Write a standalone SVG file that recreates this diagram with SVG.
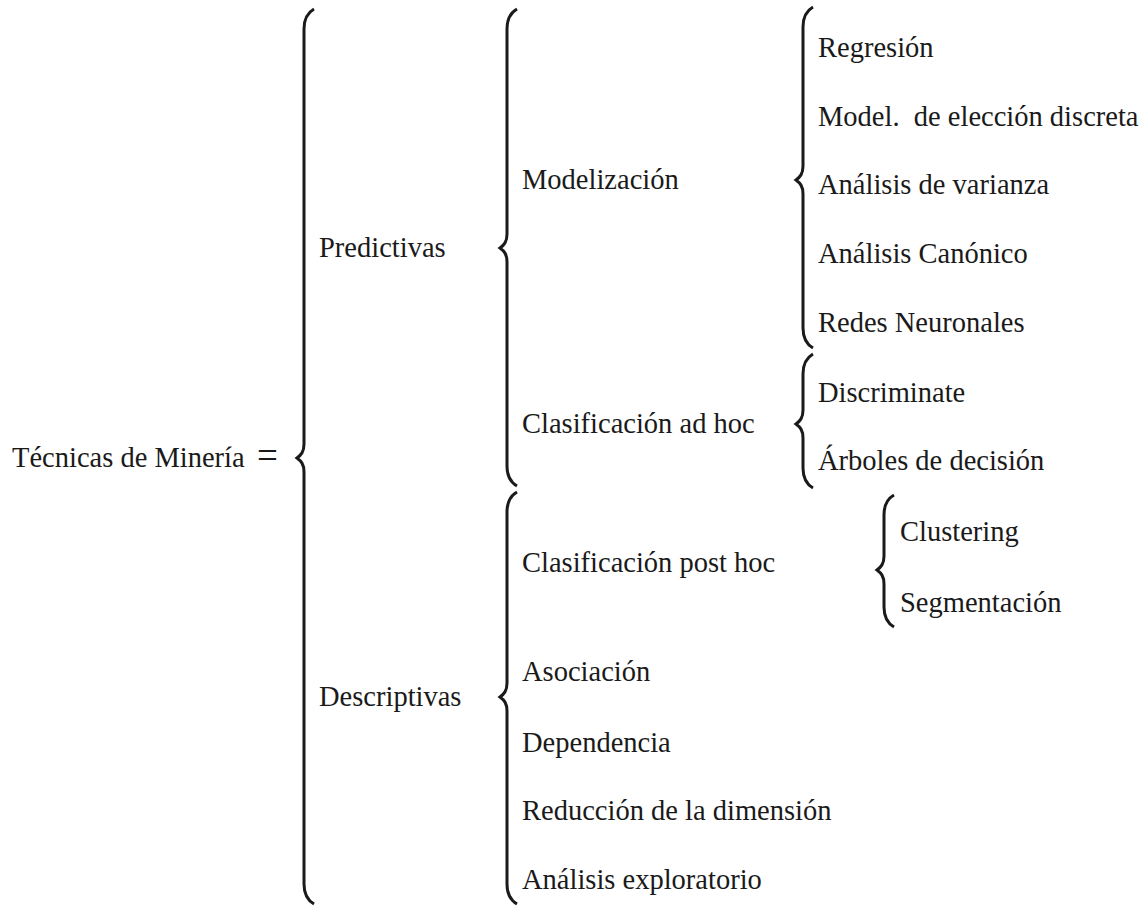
<svg xmlns="http://www.w3.org/2000/svg" width="1148" height="906" viewBox="0 0 1148 906">
<style>
text{font-family:"Liberation Serif","Times New Roman",serif;font-size:28.5px;fill:#1a1a1a}
.b{fill:none;stroke:#1a1a1a;stroke-width:3;stroke-linecap:butt}
</style>
<rect width="1148" height="906" fill="#fff"/>
<g id="connectors">
<path class="b" d="M314,9 C307,13 304,19 304,29 L304,444 C304,452 301,455 297,458 C301,461 304,464 304,472 L304,884 C304,894 307,900 314,904"/>
<path class="b" d="M517,9 C510,13 507,19 507,29 L507,234 C507,242 504,245 500,248 C504,251 507,254 507,262 L507,466 C507,476 510,482 517,486"/>
<path class="b" d="M517,492 C510,496 507,502 507,512 L507,683 C507,691 504,694 500,697 C504,700 507,703 507,711 L507,884 C507,894 510,900 517,904"/>
<path class="b" d="M813,7 C806,11 803,17 803,27 L803,166 C803,174 800,177 796,180 C800,183 803,186 803,194 L803,328 C803,338 806,344 813,348"/>
<path class="b" d="M813,354 C806,358 803,364 803,374 L803,410 C803,418 800,421 796,424 C800,427 803,430 803,438 L803,468 C803,478 806,484 813,488"/>
<path class="b" d="M894,495 C887,499 884,505 884,515 L884,556 C884,564 881,567 877,570 C881,573 884,576 884,584 L884,607 C884,617 887,623 894,627"/>
</g>
<g id="root"><text x="12" y="467">Técnicas de Minería</text><text x="257" y="468" style="font-size:37px">=</text></g>
<g id="predictivas"><text x="319" y="257">Predictivas</text></g>
<g id="descriptivas"><text x="319" y="706">Descriptivas</text></g>
<g id="modelizacion"><text x="522" y="189">Modelización</text></g>
<g id="clas-adhoc"><text x="522" y="433">Clasificación ad hoc</text></g>
<g id="clas-posthoc"><text x="522" y="572">Clasificación post hoc</text></g>
<g id="asociacion"><text x="522" y="681">Asociación</text></g>
<g id="dependencia"><text x="522" y="752">Dependencia</text></g>
<g id="reduccion"><text x="522" y="820">Reducción de la dimensión</text></g>
<g id="exploratorio"><text x="522" y="889">Análisis exploratorio</text></g>
<g id="regresion"><text x="818" y="57">Regresión</text></g>
<g id="eleccion"><text x="818" y="126" xml:space="preserve">Model.  de elección discreta</text></g>
<g id="varianza"><text x="818" y="194">Análisis de varianza</text></g>
<g id="canonico"><text x="818" y="263">Análisis Canónico</text></g>
<g id="redes"><text x="818" y="332">Redes Neuronales</text></g>
<g id="discriminate"><text x="818" y="402">Discriminate</text></g>
<g id="arboles"><text x="818" y="470">Árboles de decisión</text></g>
<g id="clustering"><text x="900" y="541">Clustering</text></g>
<g id="segmentacion"><text x="900" y="612">Segmentación</text></g>
</svg>
